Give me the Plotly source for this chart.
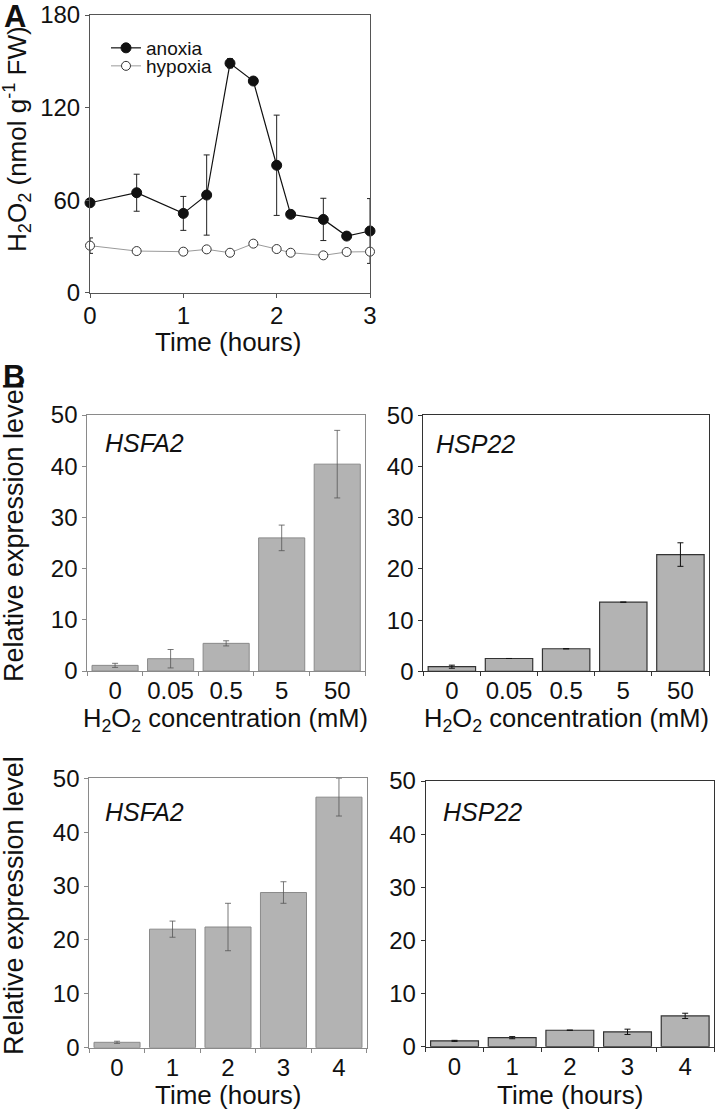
import plotly.graph_objects as go

W, H = 717, 1117

# ---------------- Data ----------------
# Panel A
time_anoxia = [0, 0.5, 1, 1.25, 1.5, 1.75, 2, 2.15, 2.5, 2.75, 3]
h2o2_anoxia = [58.3, 64.8, 51.4, 63.3, 148.7, 137.2, 82.6, 50.8, 47.5, 36.7, 40.0]
err_anoxia = [0, 12, 11, 26, 3, 2, 32.5, 0, 13.7, 0, 21]

time_hypoxia = [0, 0.5, 1, 1.25, 1.5, 1.75, 2, 2.15, 2.5, 2.75, 3]
h2o2_hypoxia = [30.5, 27.0, 26.6, 28.1, 25.9, 31.8, 28.3, 25.9, 24.2, 26.4, 26.6]
err_hypoxia = [5, 0, 2, 0, 0, 0, 0, 0, 0, 0, 0]

# Panel B
conc_labels = ["0", "0.05", "0.5", "5", "50"]
time_labels = ["0", "1", "2", "3", "4"]

hsfa2_conc = [1.1, 2.4, 5.4, 26.0, 40.4]
hsfa2_conc_err = [0.4, 1.8, 0.5, 2.5, 6.6]
hsp22_conc = [0.9, 2.5, 4.4, 13.5, 22.8]
hsp22_conc_err = [0.3, 0.0, 0.0, 0.0, 2.3]

hsfa2_time = [1.0, 22.0, 22.4, 28.8, 46.5]
hsfa2_time_err = [0.2, 1.5, 4.4, 2.0, 3.5]
hsp22_time = [1.1, 1.7, 3.1, 2.8, 5.8]
hsp22_time_err = [0.1, 0.2, 0.0, 0.5, 0.5]

# ---------------- Helpers ----------------
FONT = "Arial, Liberation Sans, Helvetica, sans-serif"


def px_x(a):
    return a / W


def px_y(b):
    return 1 - b / H


def dx(a, b):
    return [px_x(a), px_x(b)]


def dy(top, bot):
    return [px_y(bot), px_y(top)]


fig = go.Figure()

# Panel A traces
fig.add_trace(go.Scatter(
    x=time_anoxia, y=h2o2_anoxia, name="anoxia", mode="lines+markers",
    line=dict(color="#111111", width=1.2),
    marker=dict(size=10, color="#111111", line=dict(color="#111111", width=1)),
    error_y=dict(type="data", array=err_anoxia, color="#222222", thickness=1, width=3),
    cliponaxis=False, xaxis="x", yaxis="y", legend="legend"))
fig.add_trace(go.Scatter(
    x=time_hypoxia, y=h2o2_hypoxia, name="hypoxia", mode="lines+markers",
    line=dict(color="#9a9a9a", width=1),
    marker=dict(size=9, color="white", line=dict(color="#333333", width=1)),
    error_y=dict(type="data", array=err_hypoxia, color="#222222", thickness=1, width=3),
    cliponaxis=False, xaxis="x", yaxis="y", legend="legend2"))

BAR_FILL = "#b3b3b3"


def add_bars(cats, vals, errs, ax, dark):
    fig.add_trace(go.Bar(
        x=cats, y=vals, showlegend=False,
        marker=dict(color=BAR_FILL,
                    line=dict(color="#333333" if dark else "#8a8a8a",
                              width=1.2 if dark else 1)),
        error_y=dict(type="data", array=errs,
                     color="#111111" if dark else "#555555",
                     thickness=1 if dark else 0.8, width=3),
        xaxis="x" + ax, yaxis="y" + ax))


add_bars(conc_labels, hsfa2_conc, hsfa2_conc_err, "2", False)
add_bars(conc_labels, hsp22_conc, hsp22_conc_err, "3", True)
add_bars(time_labels, hsfa2_time, hsfa2_time_err, "4", False)
add_bars(time_labels, hsp22_time, hsp22_time_err, "5", True)

TICKF = dict(family=FONT, size=24, color="#111111")


def lin_axis(domain, anchor, color, **kw):
    d = dict(domain=domain, anchor=anchor, showline=True, linecolor=color, linewidth=1,
             mirror=True, ticks="outside", ticklen=4, tickcolor=color,
             showgrid=False, zeroline=False, tickfont=TICKF, automargin=False,
             tickangle=0)
    d.update(kw)
    return d


LEGF = dict(family=FONT, size=19, color="#111111")
layout = dict(
    width=W, height=H, margin=dict(l=0, r=0, t=0, b=0, pad=0),
    paper_bgcolor="white", plot_bgcolor="white",
    bargap=0.17, font=dict(family=FONT, color="#111111"),
    showlegend=True,
    legend=dict(x=px_x(106), y=px_y(48), xanchor="left", yanchor="middle",
                bgcolor="rgba(0,0,0,0)", font=LEGF, borderwidth=0, itemwidth=30),
    legend2=dict(x=px_x(106), y=px_y(66), xanchor="left", yanchor="middle",
                 bgcolor="rgba(0,0,0,0)", font=LEGF, borderwidth=0, itemwidth=30),
)

# Panel A axes
layout["xaxis"] = lin_axis(dx(90, 370), "y", "#555555", range=[0, 3],
                           tickvals=[0, 1, 2, 3], ticklabelstandoff=-3)
layout["yaxis"] = lin_axis(dy(15, 292.7), "x", "#555555", range=[0, 180],
                           tickvals=[0, 60, 120, 180])

# Panel B axes
specs = {
    "2": (dx(87.3, 365), dy(415, 671), "#8a8a8a"),
    "3": (dx(423.3, 709), dy(415.3, 671.3), "#333333"),
    "4": (dx(89.3, 366.7), dy(778.3, 1047.7), "#8a8a8a"),
    "5": (dx(425.7, 714), dy(781, 1046.7), "#333333"),
}
for k, (xd, yd, col) in specs.items():
    layout["xaxis" + k] = lin_axis(xd, "y" + k, col, type="category",
                                   tickson="boundaries", range=[-0.5, 4.5],
                                   ticklabelstandoff=-2)
    layout["yaxis" + k] = lin_axis(yd, "x" + k, col, range=[0, 50],
                                   tickvals=[0, 10, 20, 30, 40, 50])

fig.update_layout(**layout)


def ann(text, px, py, size=26, angle=0, bold=False, italic=False, xanchor="center"):
    f = dict(family=FONT, size=size, color="#111111")
    t = text
    if bold:
        t = "<b>" + t + "</b>"
    if italic:
        t = "<i>" + t + "</i>"
    fig.add_annotation(text=t, x=px_x(px), y=px_y(py), xref="paper", yref="paper",
                       showarrow=False, textangle=angle, font=f,
                       xanchor=xanchor, yanchor="middle")


# Panel letters
ann("A", 15, 16, size=31, bold=True)
ann("B", 14, 376, size=31, bold=True)

# Panel A titles
ann("H<sub>2</sub>O<sub>2</sub> (nmol g<sup>-1</sup> FW)", 17, 139, size=26, angle=-90)
ann("Time (hours)", 228, 342)

# Panel B titles
ann("Relative expression level", 14, 533, size=27, angle=-90)
ann("Relative expression level", 14, 906, size=27, angle=-90)
ann("H<sub>2</sub>O<sub>2</sub> concentration (mM)", 225, 720, size=25.5)
ann("H<sub>2</sub>O<sub>2</sub> concentration (mM)", 566, 720, size=25.5)
ann("Time (hours)", 228, 1095)
ann("Time (hours)", 570, 1095)

# Gene labels
ann("HSFA2", 103, 443, size=25, italic=True, xanchor="left")
ann("HSP22", 434, 444, size=25, italic=True, xanchor="left")
ann("HSFA2", 103, 812, size=25, italic=True, xanchor="left")
ann("HSP22", 441, 812, size=25, italic=True, xanchor="left")

fig.write_html("out.html", config={"displayModeBar": False},
               post_script="document.body.style.margin='0px';")
